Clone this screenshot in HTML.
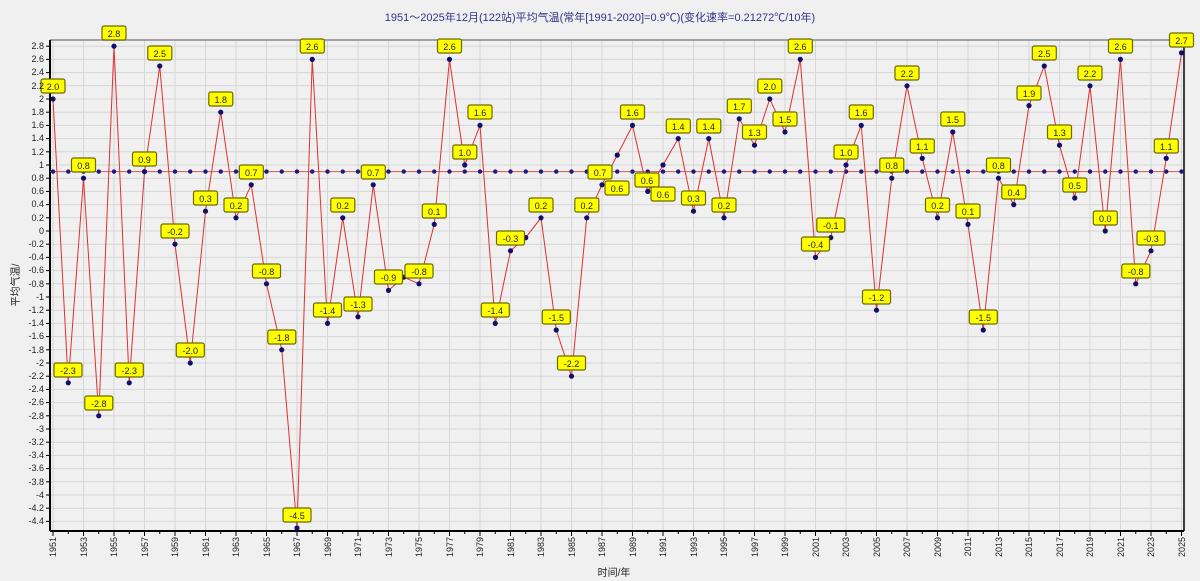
<!DOCTYPE html>
<html><head><meta charset="utf-8"><style>
body{margin:0;background:#f0f0f0;width:1200px;height:581px;overflow:hidden}
svg{display:block;font-family:"Liberation Sans","Noto Sans CJK SC",sans-serif}
.yt{font-size:9px;fill:#222;text-anchor:end}
.xt{font-size:9px;fill:#222;text-anchor:end}
.lbl{font-size:9px;fill:#222;text-anchor:middle}
</style></head><body>
<svg id="s" width="1200" height="581" viewBox="0 0 1200 581">
<rect x="0" y="0" width="1200" height="581" fill="#f0f0f0"/>
<g id="grid"></g>
<line x1="50" y1="40" x2="1184" y2="40" stroke="#888" stroke-width="1.5"/>
<line x1="50" y1="40" x2="50" y2="531" stroke="#000" stroke-width="2"/>
<line x1="1184" y1="40" x2="1184" y2="531" stroke="#000" stroke-width="1.5"/>
<line x1="50" y1="531" x2="1184" y2="531" stroke="#000" stroke-width="2"/>
<g id="ser"></g>
<g id="labs"></g>
<text x="600" y="21" font-size="11" fill="#33338a" text-anchor="middle">1951～2025年12月(122站)平均气温(常年[1991-2020]=0.9℃)(变化速率=0.21272℃/10年)</text>
<text x="614" y="576" font-size="10" fill="#222" text-anchor="middle">时间/年</text>
<text transform="translate(19,285) rotate(-90)" font-size="10" fill="#222" text-anchor="middle">平均气温/</text>
<g id="yt">
<text class="yt" x="44" y="49">2.8</text><text class="yt" x="44" y="62">2.6</text><text class="yt" x="44" y="75">2.4</text><text class="yt" x="44" y="89">2.2</text><text class="yt" x="44" y="102">2</text><text class="yt" x="44" y="115">1.8</text><text class="yt" x="44" y="128">1.6</text><text class="yt" x="44" y="141">1.4</text><text class="yt" x="44" y="155">1.2</text><text class="yt" x="44" y="168">1</text><text class="yt" x="44" y="181">0.8</text><text class="yt" x="44" y="194">0.6</text><text class="yt" x="44" y="207">0.4</text><text class="yt" x="44" y="221">0.2</text><text class="yt" x="44" y="234">0</text><text class="yt" x="44" y="247">-0.2</text><text class="yt" x="44" y="260">-0.4</text><text class="yt" x="44" y="273">-0.6</text><text class="yt" x="44" y="287">-0.8</text><text class="yt" x="44" y="300">-1</text><text class="yt" x="44" y="313">-1.2</text><text class="yt" x="44" y="326">-1.4</text><text class="yt" x="44" y="339">-1.6</text><text class="yt" x="44" y="353">-1.8</text><text class="yt" x="44" y="366">-2</text><text class="yt" x="44" y="379">-2.2</text><text class="yt" x="44" y="392">-2.4</text><text class="yt" x="44" y="405">-2.6</text><text class="yt" x="44" y="419">-2.8</text><text class="yt" x="44" y="432">-3</text><text class="yt" x="44" y="445">-3.2</text><text class="yt" x="44" y="458">-3.4</text><text class="yt" x="44" y="471">-3.6</text><text class="yt" x="44" y="485">-3.8</text><text class="yt" x="44" y="498">-4</text><text class="yt" x="44" y="511">-4.2</text><text class="yt" x="44" y="524">-4.4</text>
</g>
<g id="xt">
<text class="xt" transform="translate(56,537) rotate(-90)">1951</text><text class="xt" transform="translate(87,537) rotate(-90)">1953</text><text class="xt" transform="translate(117,537) rotate(-90)">1955</text><text class="xt" transform="translate(148,537) rotate(-90)">1957</text><text class="xt" transform="translate(178,537) rotate(-90)">1959</text><text class="xt" transform="translate(209,537) rotate(-90)">1961</text><text class="xt" transform="translate(239,537) rotate(-90)">1963</text><text class="xt" transform="translate(270,537) rotate(-90)">1965</text><text class="xt" transform="translate(300,537) rotate(-90)">1967</text><text class="xt" transform="translate(331,537) rotate(-90)">1969</text><text class="xt" transform="translate(361,537) rotate(-90)">1971</text><text class="xt" transform="translate(392,537) rotate(-90)">1973</text><text class="xt" transform="translate(422,537) rotate(-90)">1975</text><text class="xt" transform="translate(453,537) rotate(-90)">1977</text><text class="xt" transform="translate(483,537) rotate(-90)">1979</text><text class="xt" transform="translate(514,537) rotate(-90)">1981</text><text class="xt" transform="translate(544,537) rotate(-90)">1983</text><text class="xt" transform="translate(575,537) rotate(-90)">1985</text><text class="xt" transform="translate(605,537) rotate(-90)">1987</text><text class="xt" transform="translate(636,537) rotate(-90)">1989</text><text class="xt" transform="translate(666,537) rotate(-90)">1991</text><text class="xt" transform="translate(697,537) rotate(-90)">1993</text><text class="xt" transform="translate(727,537) rotate(-90)">1995</text><text class="xt" transform="translate(758,537) rotate(-90)">1997</text><text class="xt" transform="translate(788,537) rotate(-90)">1999</text><text class="xt" transform="translate(819,537) rotate(-90)">2001</text><text class="xt" transform="translate(849,537) rotate(-90)">2003</text><text class="xt" transform="translate(880,537) rotate(-90)">2005</text><text class="xt" transform="translate(910,537) rotate(-90)">2007</text><text class="xt" transform="translate(941,537) rotate(-90)">2009</text><text class="xt" transform="translate(971,537) rotate(-90)">2011</text><text class="xt" transform="translate(1002,537) rotate(-90)">2013</text><text class="xt" transform="translate(1032,537) rotate(-90)">2015</text><text class="xt" transform="translate(1063,537) rotate(-90)">2017</text><text class="xt" transform="translate(1093,537) rotate(-90)">2019</text><text class="xt" transform="translate(1124,537) rotate(-90)">2021</text><text class="xt" transform="translate(1154,537) rotate(-90)">2023</text><text class="xt" transform="translate(1185,537) rotate(-90)">2025</text>
</g>
<g id="lt">
<text class="lbl" x="53" y="90">2.0</text><text class="lbl" x="68" y="374">-2.3</text><text class="lbl" x="83.5" y="169">0.8</text><text class="lbl" x="98.8" y="407">-2.8</text><text class="lbl" x="114" y="37">2.8</text><text class="lbl" x="129.3" y="374">-2.3</text><text class="lbl" x="144.5" y="163">0.9</text><text class="lbl" x="159.8" y="57">2.5</text><text class="lbl" x="175" y="235">-0.2</text><text class="lbl" x="190.3" y="354">-2.0</text><text class="lbl" x="205.5" y="202">0.3</text><text class="lbl" x="220.8" y="103">1.8</text><text class="lbl" x="236" y="209">0.2</text><text class="lbl" x="251.3" y="176">0.7</text><text class="lbl" x="266.5" y="275">-0.8</text><text class="lbl" x="281.8" y="341">-1.8</text><text class="lbl" x="297" y="519">-4.5</text><text class="lbl" x="312.3" y="50">2.6</text><text class="lbl" x="327.5" y="314">-1.4</text><text class="lbl" x="342.8" y="209">0.2</text><text class="lbl" x="358" y="308">-1.3</text><text class="lbl" x="373.3" y="176">0.7</text><text class="lbl" x="388.5" y="281">-0.9</text><text class="lbl" x="419" y="275">-0.8</text><text class="lbl" x="434.3" y="215">0.1</text><text class="lbl" x="449.5" y="50">2.6</text><text class="lbl" x="464.8" y="156">1.0</text><text class="lbl" x="480" y="116">1.6</text><text class="lbl" x="495.3" y="314">-1.4</text><text class="lbl" x="510.5" y="242">-0.3</text><text class="lbl" x="541" y="209">0.2</text><text class="lbl" x="556.3" y="321">-1.5</text><text class="lbl" x="571.5" y="367">-2.2</text><text class="lbl" x="586.8" y="209">0.2</text><text class="lbl" x="600" y="176">0.7</text><text class="lbl" x="617" y="192">0.6</text><text class="lbl" x="632.5" y="116">1.6</text><text class="lbl" x="647" y="184">0.6</text><text class="lbl" x="663" y="198">0.6</text><text class="lbl" x="678.3" y="130">1.4</text><text class="lbl" x="693.5" y="202">0.3</text><text class="lbl" x="708.8" y="130">1.4</text><text class="lbl" x="724" y="209">0.2</text><text class="lbl" x="739.3" y="110">1.7</text><text class="lbl" x="754.5" y="136">1.3</text><text class="lbl" x="769.8" y="90">2.0</text><text class="lbl" x="785" y="123">1.5</text><text class="lbl" x="800.3" y="50">2.6</text><text class="lbl" x="815.5" y="248">-0.4</text><text class="lbl" x="830.8" y="229">-0.1</text><text class="lbl" x="846" y="156">1.0</text><text class="lbl" x="861.3" y="116">1.6</text><text class="lbl" x="876.5" y="301">-1.2</text><text class="lbl" x="891.8" y="169">0.8</text><text class="lbl" x="907" y="77">2.2</text><text class="lbl" x="922.3" y="150">1.1</text><text class="lbl" x="937.5" y="209">0.2</text><text class="lbl" x="952.8" y="123">1.5</text><text class="lbl" x="968" y="215">0.1</text><text class="lbl" x="983.3" y="321">-1.5</text><text class="lbl" x="998.5" y="169">0.8</text><text class="lbl" x="1013.8" y="196">0.4</text><text class="lbl" x="1029" y="97">1.9</text><text class="lbl" x="1044.3" y="57">2.5</text><text class="lbl" x="1059.5" y="136">1.3</text><text class="lbl" x="1074.8" y="189">0.5</text><text class="lbl" x="1090" y="77">2.2</text><text class="lbl" x="1105.3" y="222">0.0</text><text class="lbl" x="1120.5" y="50">2.6</text><text class="lbl" x="1135.8" y="275">-0.8</text><text class="lbl" x="1151" y="242">-0.3</text><text class="lbl" x="1166.3" y="150">1.1</text><text class="lbl" x="1181.5" y="44">2.7</text>
</g>
</svg>
<script>
var NS="http://www.w3.org/2000/svg";
function el(p,t,a){var e=document.createElementNS(NS,t);for(var k in a)e.setAttribute(k,a[k]);p.appendChild(e);return e;}
function X(y){return 53+(y-1951)*15.25;}function Y(v){return 231-66*v;}
var g=document.getElementById('grid');
for(var v=-4.4;v<=2.81;v+=0.2){var yy=Y(v);el(g,'line',{x1:50,x2:1184,y1:yy,y2:yy,stroke:'#d6d6d6','stroke-width':1});}
for(var yr=1951;yr<=2025;yr++){var xx=X(yr);
 if(yr%2==1)el(g,'line',{x1:xx,x2:xx,y1:40,y2:531,stroke:'#d6d6d6','stroke-width':1});
 el(g,'line',{x1:xx,x2:xx,y1:531,y2:yr%2==1?536:534,stroke:'#000','stroke-width':1});}
for(var v=-4.4;v<=2.81;v+=0.2){el(g,'line',{x1:46,x2:50,y1:Y(v),y2:Y(v),stroke:'#000'});}
var d=[2.0,-2.3,0.8,-2.8,2.8,-2.3,0.9,2.5,-0.2,-2.0,0.3,1.8,0.2,0.7,-0.8,-1.8,-4.5,2.6,-1.4,0.2,-1.3,0.7,-0.9,-0.7,-0.8,0.1,2.6,1.0,1.6,-1.4,-0.3,-0.1,0.2,-1.5,-2.2,0.2,0.7,1.15,1.6,0.6,1.0,1.4,0.3,1.4,0.2,1.7,1.3,2.0,1.5,2.6,-0.4,-0.1,1.0,1.6,-1.2,0.8,2.2,1.1,0.2,1.5,0.1,-1.5,0.8,0.4,1.9,2.5,1.3,0.5,2.2,0.0,2.6,-0.8,-0.3,1.1,2.7];
var s=document.getElementById('ser');
el(s,'line',{x1:50,x2:1184,y1:Y(0.9),y2:Y(0.9),stroke:'#e05050','stroke-width':1});
for(var i=0;i<d.length;i++)el(s,'circle',{cx:X(1951+i),cy:Y(0.9),r:2.2,fill:'#1a1a80'});
var pts=d.map(function(v,i){return X(1951+i)+','+Y(v);}).join(' ');
el(s,'polyline',{points:pts,fill:'none',stroke:'#e03030','stroke-width':1});
for(var i=0;i<d.length;i++)el(s,'circle',{cx:X(1951+i),cy:Y(d[i]),r:2.6,fill:'#10106a'});
var L=document.getElementById('labs');
document.querySelectorAll('#lt text').forEach(function(t){var x=+t.getAttribute('x'),y=+t.getAttribute('y');
 var w=t.textContent.length>3?28:24;
 el(L,'rect',{x:x-w/2,y:y-11,width:w,height:14,rx:2,fill:'#ffff00',stroke:'#6b6b00','stroke-width':1.2});});
</script>
</body></html>
